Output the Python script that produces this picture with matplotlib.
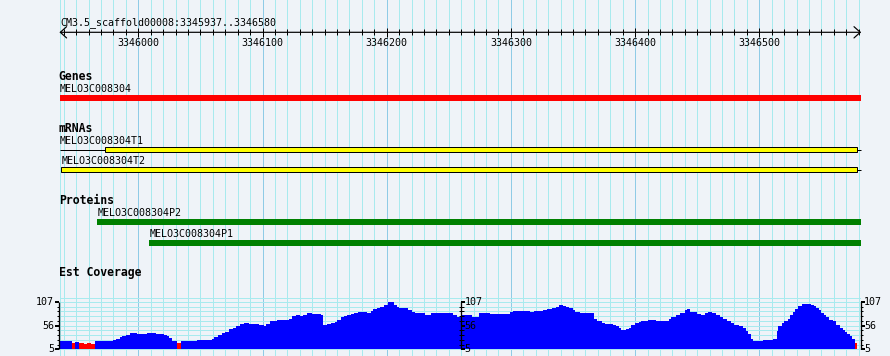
import matplotlib
matplotlib.use('Agg')
import matplotlib.pyplot as plt
import numpy as np

# ---------------- data ----------------
VIEW_START = 3345937
VIEW_END = 3346580
ruler_label = "CM3.5_scaffold00008:3345937..3346580"
major_ticks = [3346000, 3346100, 3346200, 3346300, 3346400, 3346500]

track_titles = ["Genes", "mRNAs", "Proteins", "Est Coverage"]

gene_names = ["MELO3C008304"]
gene_starts = [3345937]
gene_ends = [3346582]

mrna_names = ["MELO3C008304T1", "MELO3C008304T2"]
mrna_starts = [3345937, 3345938]
mrna_box_starts = [3345973, 3345938]
mrna_ends = [3346579, 3346579]

protein_names = ["MELO3C008304P2", "MELO3C008304P1"]
protein_starts = [3345967, 3346009]
protein_ends = [3346582, 3346582]

# coverage: segment start (offset from VIEW_START, bp) and value
cov_offsets = [0, 10, 12, 15, 19, 22, 25, 28, 43, 45, 48, 50, 53, 56, 62, 70, 77, 80, 84, 86,
               88, 90, 94, 97, 104, 110, 118, 122, 124, 127, 130, 133, 136, 139, 142, 145, 148,
               152, 156, 160, 164, 166, 169, 172, 175, 180, 184, 187, 190, 193, 196, 199, 203,
               210, 212, 215, 218, 221, 223, 226, 229, 231, 234, 237, 240, 244, 247, 250, 252,
               255, 258, 261, 264, 267, 269, 271, 273, 280, 283, 286, 294, 296, 299, 316, 320,
               323, 332, 337, 346, 362, 365, 378, 382, 389, 392, 396, 399, 402, 405, 407, 410,
               413, 415, 419, 430, 432, 436, 439, 445, 448, 450, 452, 456, 458, 460, 463, 466,
               468, 473, 480, 490, 492, 496, 499, 503, 505, 507, 513, 516, 519, 522, 525, 528,
               531, 534, 537, 540, 543, 547, 550, 552, 554, 556, 558, 563, 566, 570, 574, 577,
               578, 581, 583, 586, 588, 590, 592, 594, 597, 600, 605, 607, 609, 611, 613, 615,
               617, 619, 622, 625, 628, 630, 632, 634, 636, 638, 640]
cov_values = [22, 19, 21, 18, 16, 18, 16, 22, 24, 27, 31, 34, 36, 40, 39, 40, 39, 37, 36, 33,
              29, 23, 19, 22, 23, 25, 26, 28, 32, 36, 40, 43, 48, 52, 56, 59, 61,
              60, 59, 58, 56, 60, 65, 67, 69, 68, 70, 76, 78, 76, 80, 83, 81,
              78, 58, 60, 62, 64, 69, 74, 76, 78, 81, 83, 85, 86, 83, 88, 92,
              95, 97, 100, 107, 106, 100, 96, 93, 89, 85, 83, 80, 78, 83, 79, 75,
              78, 74, 84, 82, 85, 87, 86, 88, 90, 92, 94, 96, 100, 99, 97, 94,
              90, 86, 84, 71, 66, 62, 60, 58, 55, 50, 46, 48, 52, 57, 61, 64,
              65, 69, 67, 70, 74, 78, 83, 89, 91, 85, 82, 79, 83, 86, 83, 79,
              74, 70, 66, 62, 58, 55, 52, 45, 38, 28, 22, 23, 25, 26, 27, 45,
              56, 62, 66, 70, 78, 86, 92, 98, 102, 103, 101, 98, 94, 89, 84, 79,
              75, 69, 65, 57, 51, 46, 43, 38, 33, 27, 19]
cov_end_offset = 642
cov_low_threshold = 20
cov_min, cov_max = 5, 107
cov_axis_labels = [107, 56, 5]

# ---------------- styles / layout ----------------
W, H = 890, 356
BG = '#eff3f8'
GRID_MINOR = '#a8eaee'
GRID_MAJOR = '#8fcbe6'
FONT = 'DejaVu Sans Mono'
SMALL = 7.2
BOLD = 8.3
PX = 0.72  # 1 pixel in points

# pixel <-> bp mapping
px_per_bp = 1.242
bp_at_px0 = 3346000 - 138.3 / px_per_bp
bp_at_pxW = 3346000 + (W - 138.3) / px_per_bp

fig = plt.figure(figsize=(W / 100, H / 100), dpi=100)
fig.patch.set_facecolor(BG)
ax = fig.add_axes([0, 0, 1, 1])
ax.set_xlim(bp_at_px0, bp_at_pxW)
ax.set_ylim(H, 0)
ax.set_axis_off()

# vertical grid lines
minor_grid = [p for p in range(3345940, VIEW_END + 1, 10) if p % 100 != 0]
ax.vlines(minor_grid, 0, H, color=GRID_MINOR, lw=PX, zorder=0, antialiased=False)
ax.vlines(major_ticks, 0, H, color=GRID_MAJOR, lw=PX, zorder=0, antialiased=False)
ax.vlines([VIEW_START], 0, H, color=GRID_MINOR, lw=PX, zorder=0, antialiased=False)

# ruler
ruler_y = 32.3
ax.text(VIEW_START, 25, ruler_label, family=FONT, fontsize=SMALL, va='baseline', ha='left')
ax.annotate('', xy=(VIEW_START - 0.5, ruler_y), xytext=(VIEW_END + 2, ruler_y),
            arrowprops=dict(arrowstyle='<->,head_length=0.5,head_width=0.45', lw=PX * 1.2,
                            color='black', mutation_scale=9, shrinkA=0, shrinkB=0))
ax.vlines(minor_grid, ruler_y - 2.8, ruler_y + 2.8, color='black', lw=PX)
ax.vlines(major_ticks, ruler_y - 4.5, ruler_y + 4.8, color='black', lw=PX)
for t in major_ticks:
    ax.text(t, 45.5, str(t), family=FONT, fontsize=SMALL, ha='center', va='baseline')

# track titles
title_y = [80, 132.5, 204, 276]
for t, y in zip(track_titles, title_y):
    ax.text(VIEW_START - 1, y, t, family=FONT, fontsize=BOLD, fontweight='bold',
            va='baseline', ha='left')

# genes
for name, s, e in zip(gene_names, gene_starts, gene_ends):
    ax.text(s, 91.7, name, family=FONT, fontsize=SMALL, va='baseline', ha='left')
    ax.barh(97.9, e - s, left=s, height=5.8, color='#ff0000', linewidth=0)

# mRNAs
mrna_label_y = [144.2, 164.2]
mrna_y = [149.5, 169.5]
for name, s, bs, e, ly, y in zip(mrna_names, mrna_starts, mrna_box_starts, mrna_ends,
                                 mrna_label_y, mrna_y):
    ax.text(s, ly, name, family=FONT, fontsize=SMALL, va='baseline', ha='left')
    if bs > s:
        ax.hlines(y, s, bs, color='black', lw=PX)
    ax.barh(y, e - bs, left=bs, height=4.4, color='#ffff00', edgecolor='black', linewidth=PX)
    ax.hlines(y, e, e + 3, color='black', lw=PX)

# proteins
prot_label_y = [216, 237]
prot_y = [222.2, 242.9]
for name, s, e, ly, y in zip(protein_names, protein_starts, protein_ends, prot_label_y, prot_y):
    ax.text(s, ly, name, family=FONT, fontsize=SMALL, va='baseline', ha='left')
    ax.barh(y, e - s, left=s, height=5.8, color='#008000', linewidth=0)

# ---------------- coverage track ----------------
pix_top, pix_bot = 302.0, 349.3
cax = fig.add_axes([0, (H - pix_bot) / H, 1, (pix_bot - pix_top) / H])
cax.set_xlim(bp_at_px0, bp_at_pxW)
cax.set_ylim(cov_min, cov_max)
cax.set_axis_off()
cax.patch.set_alpha(0)

unit_per_px = (cov_max - cov_min) / (pix_bot - pix_top)
step = (cov_max - cov_min) / 10
tick_vals = [cov_min + k * step for k in range(11)]
grid_vals = tick_vals + [cov_max + 4 * unit_per_px]
cax.hlines(grid_vals, VIEW_START, VIEW_END + 1, color=GRID_MINOR, lw=PX,
           zorder=0, clip_on=False, antialiased=False)

offs = np.array(cov_offsets, dtype=float)
vals = np.array(cov_values, dtype=float)
widths = np.diff(np.append(offs, cov_end_offset))
colors = ['#ff0000' if v < cov_low_threshold else '#0000ff' for v in vals]
cax.bar(VIEW_START + offs, vals - cov_min, bottom=cov_min, width=widths, align='edge',
        color=colors, linewidth=0, antialiased=False, zorder=2)

# y axes (left, middle, right)
axis_pos = [VIEW_START - 0.5, 3346260, VIEW_END + 1.5]
bp_px = 1 / px_per_bp
for i, xa in enumerate(axis_pos):
    cax.vlines(xa, cov_min, cov_max, color='black', lw=PX * 1.3, zorder=5, clip_on=False)
    direction = -1 if i == 0 else 1
    for k, tv in enumerate(tick_vals):
        major = k in (0, 5, 10)
        ln = (4 if major else 2.5) * bp_px
        cax.hlines(tv, xa, xa + direction * ln, color='black',
                   lw=PX * (2 if major else 1), zorder=5, clip_on=False)
        if i == 1 and not major:
            cax.hlines(tv, xa, xa - 2.5 * bp_px, color='black', lw=PX, zorder=5, clip_on=False)
    for lab in cov_axis_labels:
        if i == 0:
            cax.text(xa - 5.5 * bp_px, lab, str(lab), family=FONT, fontsize=SMALL,
                     ha='right', va='center', zorder=6, clip_on=False)
        else:
            cax.text(xa + 3.5 * bp_px, lab, str(lab), family=FONT, fontsize=SMALL,
                     ha='left', va='center', zorder=6, clip_on=False)

fig.savefig('out.png', dpi=100, facecolor=BG)
